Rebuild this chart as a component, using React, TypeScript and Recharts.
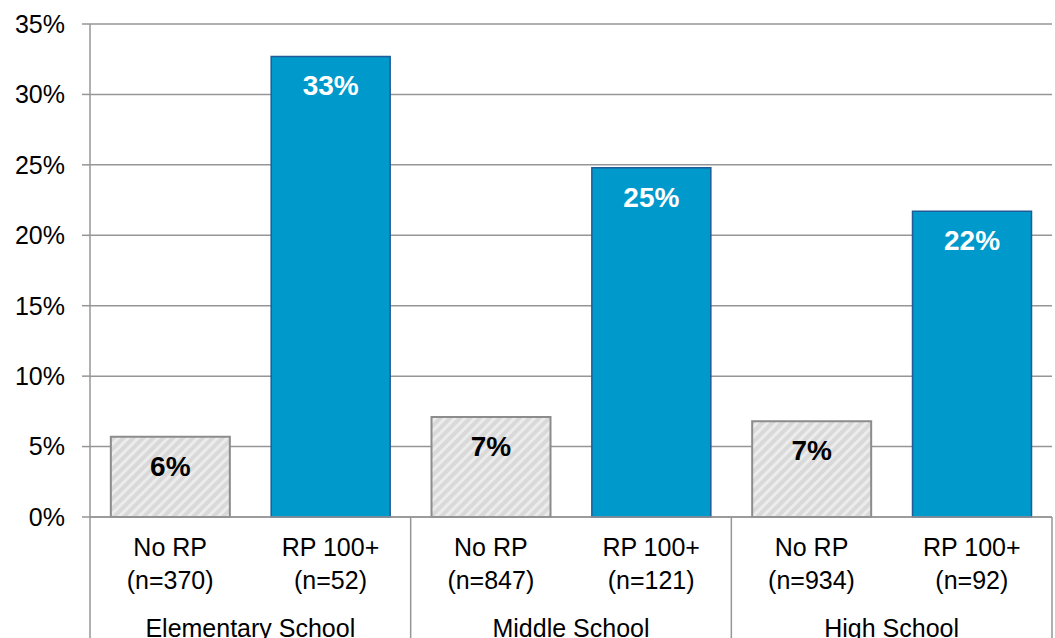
import React from "react";
import { Bar, BarChart, CartesianGrid, Cell, LabelList, XAxis, YAxis } from "recharts";

const categories = ["No RP", "RP 100+", "No RP", "RP 100+", "No RP", "RP 100+"];
const sampleSizes = ["(n=370)", "(n=52)", "(n=847)", "(n=121)", "(n=934)", "(n=92)"];
const groups = ["Elementary School", "Middle School", "High School"];
const values = [5.7, 32.7, 7.1, 24.8, 6.8, 21.7];
const yTicks = [0, 5, 10, 15, 20, 25, 30, 35];

const data = values.map((v, i) => ({
  key: i,
  name: categories[i],
  n: sampleSizes[i],
  group: groups[Math.floor(i / 2)],
  value: v,
  rp: i % 2 === 1,
}));

const W = 1055;
const H = 638;
const M = { top: 24, right: 3, left: 0, bottom: 0 };
const Y_W = 90;
const X_H = 121;
const FONT = "'Liberation Sans', Arial, sans-serif";
const GRID = "#969696";
const TICK_FS = 25;

const plotW = W - M.left - M.right - Y_W;
const bandW = plotW / data.length;

function CategoryTick(props: any) {
  const { x, y, payload, index } = props;
  const d = data[payload.index ?? index];
  const first = index % 2 === 0;
  return (
    <g>
      <text x={x} y={y + 39} textAnchor="middle" fontSize={TICK_FS} fill="#000" fontFamily={FONT}>
        {d.name}
      </text>
      <text x={x} y={y + 72} textAnchor="middle" fontSize={TICK_FS} fill="#000" fontFamily={FONT}>
        {d.n}
      </text>
      {first && (
        <>
          <line x1={x - bandW / 2} x2={x - bandW / 2} y1={y} y2={y + X_H} stroke={GRID} strokeWidth={1.5} />
          <text x={x + bandW / 2} y={y + 120} textAnchor="middle" fontSize={TICK_FS} fill="#000" fontFamily={FONT}>
            {d.group}
          </text>
        </>
      )}
      {index === data.length - 1 && (
        <line x1={x + bandW / 2} x2={x + bandW / 2} y1={y} y2={y + X_H} stroke={GRID} strokeWidth={1.5} />
      )}
    </g>
  );
}

function ValueLabel(props: any) {
  const { x, y, width, value, index } = props;
  const rp = data[index]?.rp;
  return (
    <text
      x={x + width / 2}
      y={y + 39}
      textAnchor="middle"
      fontSize={28}
      fontWeight="bold"
      fill={rp ? "#fff" : "#000"}
      fontFamily={FONT}
    >
      {`${Math.round(value)}%`}
    </text>
  );
}

export default function App() {
  return (
    <div style={{ position: "absolute", left: 0, top: 0, background: "#fff" }}>
      <BarChart width={W} height={H} data={data} margin={M} barCategoryGap="13%">
        <defs>
          <pattern id="hatch" width="7" height="7" patternUnits="userSpaceOnUse" patternTransform="rotate(45)">
            <rect width="7" height="7" fill="#d9d9d9" />
            <rect width="3" height="7" fill="#ececec" />
          </pattern>
        </defs>
        <CartesianGrid vertical={false} stroke={GRID} strokeWidth={1.5} />
        <XAxis
          dataKey="key"
          type="category"
          height={X_H}
          interval={0}
          tickLine={false}
          tickSize={0}
          tickMargin={0}
          axisLine={{ stroke: GRID, strokeWidth: 1.5 }}
          tick={<CategoryTick />}
        />
        <YAxis
          width={Y_W}
          domain={[0, 35]}
          ticks={yTicks}
          interval={0}
          tickSize={8}
          tickMargin={17}
          tickFormatter={(v: number) => `${v}%`}
          tick={{ fontSize: TICK_FS, fill: "#000", fontFamily: FONT }}
          tickLine={{ stroke: GRID, strokeWidth: 1.5 }}
          axisLine={{ stroke: GRID, strokeWidth: 1.5 }}
        />
        <Bar dataKey="value" isAnimationActive={false}>
          {data.map((d) => (
            <Cell
              key={d.key}
              fill={d.rp ? "#0099cc" : "url(#hatch)"}
              stroke={d.rp ? "#1f5c96" : "#8c8c8c"}
              strokeWidth={d.rp ? 1.5 : 2}
            />
          ))}
          <LabelList dataKey="value" content={<ValueLabel />} />
        </Bar>
      </BarChart>
    </div>
  );
}
